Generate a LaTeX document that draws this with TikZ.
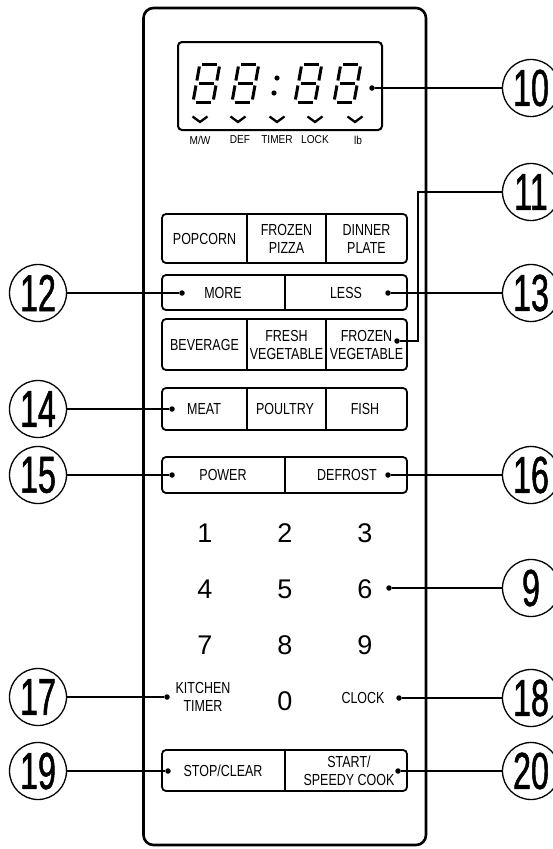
\documentclass[tikz,border=0pt]{standalone}
\usepackage{fontspec}
\setmainfont{Liberation Sans}
\newfontfamily\condfont[FakeStretch=0.78]{Liberation Sans}
\newfontfamily\smallfont[FakeStretch=0.88]{Liberation Sans}
\newfontfamily\callfont[FakeStretch=0.62, FakeBold=1]{Liberation Sans}
\usetikzlibrary{positioning, calc}

\begin{document}
\begin{tikzpicture}[x=1pt, y=-1pt,
    panel/.style={line width=2.6pt, rounded corners=10pt},
    keyrow/.style={line width=1.8pt, rounded corners=4pt},
    keytext/.style={font=\condfont\fontsize{16}{18}\selectfont, align=center, inner sep=0pt},
    padkey/.style={font=\fontsize{27}{27}\selectfont, inner sep=0pt},
    tinytext/.style={font=\smallfont\fontsize{11.5}{12}\selectfont, inner sep=0pt},
    callout/.style={draw, circle, line width=1.3pt, minimum size=57pt, inner sep=0pt, font=\callfont\fontsize{52}{52}\selectfont},
    pin/.style={circle, fill, inner sep=0pt, minimum size=5.5pt},
    lead/.style={line width=1.4pt},
    seg/.style={line width=3pt}]
  \useasboundingbox (0,0) rectangle (553,849);

  % Panel
  \draw[panel] (143.5,8) rectangle (426,845);

  % Display
  \draw[line width=2pt, rounded corners=4pt] (178,42) rectangle (382,130);
  \foreach \dx in {193,232,295,334} {
    \begin{scope}[shift={(\dx,102)}, xslant=0.18]
      \draw[seg] (2.5,-38) -- (17.5,-38);
      \draw[seg] (20,-35.5) -- (20,-21.5);
      \draw[seg] (20,-16.5) -- (20,-2.5);
      \draw[seg] (2.5,0) -- (17.5,0);
      \draw[seg] (0,-2.5) -- (0,-16.5);
      \draw[seg] (0,-21.5) -- (0,-35.5);
      \draw[seg] (2.5,-19) -- (17.5,-19);
    \end{scope}
  }
  \fill (277,78) circle (2.6) (274,93) circle (2.6);
  \foreach \cx in {200,238,277,315,355}
    \draw[line width=2.3pt] (\cx-7.5,116.5) -- (\cx,122) -- (\cx+7.5,116.5);
  \node[tinytext] (lmw) at (200,140) {M/W};
  \node[tinytext] (ldef) at (240,140) {DEF};
  \node[tinytext] (ltimer) at (277,140) {TIMER};
  \node[tinytext] (llock) at (315,140) {LOCK};
  \node[tinytext] (llb) at (358,140) {lb};

  % Auto cook keys
  \draw[keyrow] (162,214) rectangle (407,263);
  \draw[keyrow] (247,214) -- (247,263) (326,214) -- (326,263);
  \node[keytext] (popcorn) at (204.5,238.5) {POPCORN};
  \node[keytext] (fpizza) at (286.5,238.5) {FROZEN\\PIZZA};
  \node[keytext] (dplate) at (366.5,238.5) {DINNER\\PLATE};

  \draw[keyrow] (162,275) rectangle (407,310);
  \draw[keyrow] (285,275) -- (285,310);
  \node[keytext] (more) at (223,293) {MORE};
  \node[keytext] (less) at (346,293) {LESS};

  \draw[keyrow] (162,319) rectangle (407,370);
  \draw[keyrow] (247,319) -- (247,370) (326,319) -- (326,370);
  \node[keytext] (beverage) at (204.5,344.5) {BEVERAGE};
  \node[keytext] (fveg) at (286.5,344.5) {FRESH\\VEGETABLE};
  \node[keytext] (zveg) at (366.5,344.5) {FROZEN\\VEGETABLE};

  \draw[keyrow] (162,388) rectangle (407,430);
  \draw[keyrow] (247,388) -- (247,430) (326,388) -- (326,430);
  \node[keytext] (meat) at (204,409) {MEAT};
  \node[keytext] (poultry) at (285,409) {POULTRY};
  \node[keytext] (fish) at (365,409) {FISH};

  \draw[keyrow] (162,457) rectangle (407,493);
  \draw[keyrow] (285,457) -- (285,493);
  \node[keytext] (power) at (223,475) {POWER};
  \node[keytext] (defrost) at (347,475) {DEFROST};

  % Number pad
  \foreach \n/\x/\y in {1/205/533, 2/285/533, 3/365/533,
                        4/205/589, 5/285/589, 6/365/589,
                        7/205/645, 8/285/645, 9/365/645, 0/285/701}
    \node[padkey] (k\n) at (\x,\y) {\n};
  \node[keytext] (ktimer) at (203,697) {KITCHEN\\TIMER};
  \node[keytext] (clock) at (363,698) {CLOCK};

  % Stop / start keys
  \draw[keyrow] (162,750) rectangle (407,791);
  \draw[keyrow] (285,750) -- (285,791);
  \node[keytext] (stop) at (223,771) {STOP/CLEAR};
  \node[keytext] (start) at (349,771) {START/\\SPEEDY COOK};

  % Pins
  \node[pin] (p10) at (372,88) {};
  \node[pin] (p11) at (397,341) {};
  \node[pin] (p12) at (182,293) {};
  \node[pin] (p13) at (388,293) {};
  \node[pin] (p14) at (172,409) {};
  \node[pin] (p15) at (172,475) {};
  \node[pin] (p16) at (388,475) {};
  \node[pin] (p9) at (389,588) {};
  \node[pin] (p17) at (167,697) {};
  \node[pin] (p18) at (399,698) {};
  \node[pin] (p19) at (168,771) {};
  \node[pin] (p20) at (398,771) {};

  % Callouts
  \node[callout] (c10) at (531,88) {10};
  \node[callout] (c11) at (531,192) {11};
  \node[callout] (c12) at (38,293) {12};
  \node[callout] (c13) at (531,293) {13};
  \node[callout] (c14) at (38,409) {14};
  \node[callout] (c15) at (38,475) {15};
  \node[callout] (c16) at (531,475) {16};
  \node[callout] (c9) at (531,588) {9};
  \node[callout] (c17) at (38,697) {17};
  \node[callout] (c18) at (531,698) {18};
  \node[callout] (c19) at (38,771) {19};
  \node[callout] (c20) at (531,771) {20};

  % Leader lines
  \coordinate (k11) at (418,341);
  \draw[lead] (p10) -- (c10);
  \draw[lead] (p11) -- (k11) |- (c11);
  \draw[lead] (c12) -- (p12);
  \draw[lead] (p13) -- (c13);
  \draw[lead] (c14) -- (p14);
  \draw[lead] (c15) -- (p15);
  \draw[lead] (p16) -- (c16);
  \draw[lead] (p9) -- (c9);
  \draw[lead] (c17) -- (p17);
  \draw[lead] (p18) -- (c18);
  \draw[lead] (c19) -- (p19);
  \draw[lead] (p20) -- (c20);
\end{tikzpicture}
\end{document}
